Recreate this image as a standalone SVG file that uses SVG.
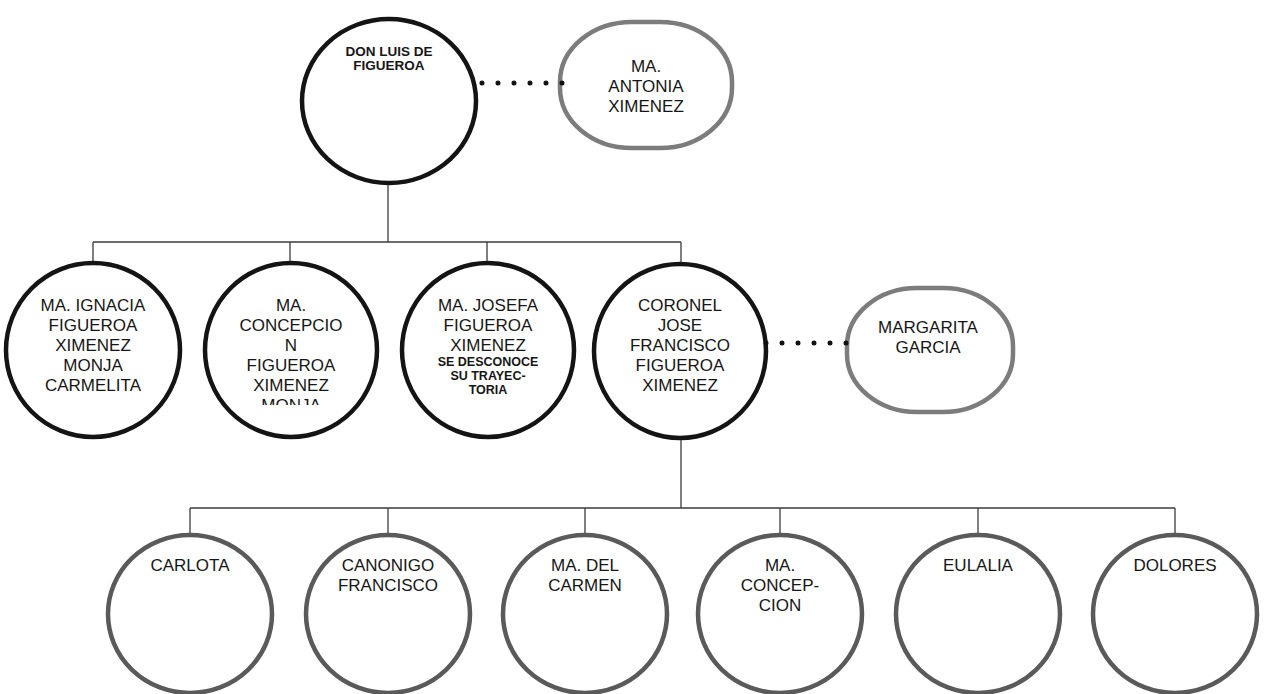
<svg xmlns="http://www.w3.org/2000/svg" width="1266" height="694" viewBox="0 0 1266 694">
<style>
  text { font-family: "Liberation Sans", Arial, sans-serif; fill: #161616; text-anchor: middle; }
  .t { font-size: 17px; }
  .s { font-size: 12.5px; font-weight: bold; }
  .d { font-size: 13.5px; font-weight: bold; }
  .blk { fill: #ffffff; stroke: #141414; stroke-width: 4.5; }
  .gry { fill: #ffffff; stroke: #5a5a5a; stroke-width: 4.5; }
  .sp { fill: #ffffff; stroke: #7c7c7c; stroke-width: 4.5; }
  .ln { fill: none; stroke: #3c3c3c; stroke-width: 1.3; }
  .dot { fill: none; stroke: #111; stroke-width: 5; stroke-linecap: round; stroke-dasharray: 0 16; }
</style>
<defs>
  <clipPath id="clipMonja"><rect x="200" y="250" width="190" height="155"/></clipPath>
</defs>
<rect width="1266" height="694" fill="#ffffff"/>

<g id="don-luis">
  <ellipse class="blk" cx="389" cy="101" rx="87" ry="82"/>
  <text class="d" x="389" y="56">DON LUIS DE</text>
  <text class="d" x="389" y="70">FIGUEROA</text>
</g>

<g id="ma-antonia">
  <rect class="sp" x="560" y="22" width="172" height="126" rx="72" ry="60"/>
  <text class="t" x="646" y="72">MA.</text>
  <text class="t" x="646" y="92">ANTONIA</text>
  <text class="t" x="646" y="112">XIMENEZ</text>
</g>

<g id="ma-ignacia">
  <ellipse class="blk" cx="93" cy="350" rx="87" ry="87"/>
  <text class="t" x="93" y="311">MA. IGNACIA</text>
  <text class="t" x="93" y="331">FIGUEROA</text>
  <text class="t" x="93" y="351">XIMENEZ</text>
  <text class="t" x="93" y="371">MONJA</text>
  <text class="t" x="93" y="391">CARMELITA</text>
</g>

<g id="ma-concepcion-1">
  <ellipse class="blk" cx="291" cy="350" rx="86" ry="87"/>
  <g clip-path="url(#clipMonja)">
    <text class="t" x="291" y="311">MA.</text>
    <text class="t" x="291" y="331">CONCEPCIO</text>
    <text class="t" x="291" y="351">N</text>
    <text class="t" x="291" y="371">FIGUEROA</text>
    <text class="t" x="291" y="391">XIMENEZ</text>
    <text class="t" x="291" y="411">MONJA</text>
  </g>
</g>

<g id="ma-josefa">
  <ellipse class="blk" cx="488" cy="350" rx="86" ry="87"/>
  <text class="t" x="488" y="311">MA. JOSEFA</text>
  <text class="t" x="488" y="331">FIGUEROA</text>
  <text class="t" x="488" y="351">XIMENEZ</text>
  <text class="s" x="488" y="366">SE DESCONOCE</text>
  <text class="s" x="488" y="380">SU TRAYEC-</text>
  <text class="s" x="488" y="394">TORIA</text>
</g>

<g id="coronel-jose-francisco">
  <ellipse class="blk" cx="680" cy="351" rx="86" ry="87"/>
  <text class="t" x="680" y="311">CORONEL</text>
  <text class="t" x="680" y="331">JOSE</text>
  <text class="t" x="680" y="351">FRANCISCO</text>
  <text class="t" x="680" y="371">FIGUEROA</text>
  <text class="t" x="680" y="391">XIMENEZ</text>
</g>

<g id="margarita-garcia">
  <rect class="sp" x="847" y="288" width="166" height="124" rx="70" ry="58"/>
  <text class="t" x="928" y="333">MARGARITA</text>
  <text class="t" x="928" y="353">GARCIA</text>
</g>

<g id="carlota">
  <ellipse class="gry" cx="190" cy="614" rx="82" ry="79"/>
  <text class="t" x="190" y="571">CARLOTA</text>
</g>
<g id="canonigo-francisco">
  <ellipse class="gry" cx="388" cy="614" rx="82" ry="79"/>
  <text class="t" x="388" y="571">CANONIGO</text>
  <text class="t" x="388" y="591">FRANCISCO</text>
</g>
<g id="ma-del-carmen">
  <ellipse class="gry" cx="585" cy="614" rx="82" ry="79"/>
  <text class="t" x="585" y="571">MA. DEL</text>
  <text class="t" x="585" y="591">CARMEN</text>
</g>
<g id="ma-concepcion-2">
  <ellipse class="gry" cx="780" cy="614" rx="82" ry="79"/>
  <text class="t" x="780" y="571">MA.</text>
  <text class="t" x="780" y="591">CONCEP-</text>
  <text class="t" x="780" y="611">CION</text>
</g>
<g id="eulalia">
  <ellipse class="gry" cx="978" cy="614" rx="82" ry="79"/>
  <text class="t" x="978" y="571">EULALIA</text>
</g>
<g id="dolores">
  <ellipse class="gry" cx="1175" cy="614" rx="82" ry="79"/>
  <text class="t" x="1175" y="571">DOLORES</text>
</g>

<g id="connectors">
  <path class="ln" d="M388 185 V242 M93 242 H681 M93 242 V261 M290 242 V261 M487 242 V261 M681 242 V262"/>
  <path class="ln" d="M681 440 V508 M190 508 H1175 M190 508 V533 M388 508 V533 M585 508 V533 M780 508 V533 M978 508 V533 M1175 508 V533"/>
  <path class="dot" d="M482 83 H563"/>
  <path class="dot" d="M766 343 H847"/>
</g>
</svg>
